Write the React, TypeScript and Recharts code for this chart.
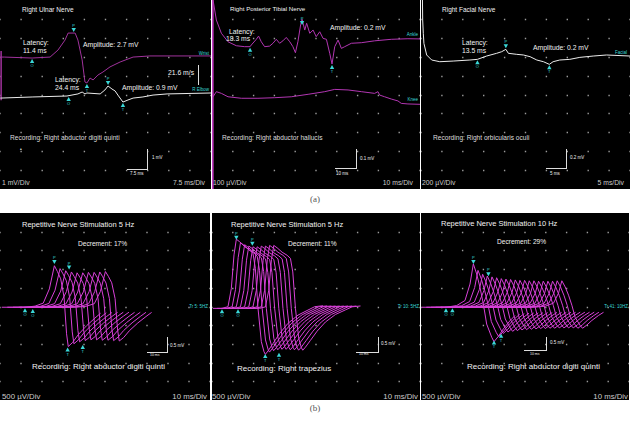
import React from "react";
import { ComposedChart, Line, Scatter, XAxis, YAxis, CartesianGrid } from "recharts";

type P = [number, number];
type Mark = { t: number; v: number; k: string };

// ---- top row: single nerve conduction recordings (x in ms) ----
// Right ulnar nerve, mV
const ulnarArtifact: P[] = [[0.4, 4.7], [0.4, 7.3]];
const ulnarWrist: P[] = [
  [0.1, 6.98], [1.5, 6.98], [11.4, 6.93], [17.8, 6.98], [20.6, 7.35], [23.1, 7.88], [24.2, 8.25],
  [26.7, 8.25], [27.7, 7.88], [29.2, 6.83], [30.2, 5.66], [30.9, 5.61], [32.0, 5.87], [33.1, 5.77],
  [34.8, 6.03], [36.6, 6.19], [39.1, 6.46], [42.7, 6.72], [47.3, 6.98], [53.3, 7.04], [75, 7.04],
];
const ulnarElbow: P[] = [
  [0.1, 4.81], [11.7, 4.87], [23.8, 4.92], [27.7, 5.03], [29.2, 5.13], [30.2, 5.03], [30.9, 5.08],
  [35.6, 5.03], [37.3, 5.24], [38.4, 5.45], [39.8, 5.29], [40.9, 5.19], [41.9, 4.97], [43.7, 4.6],
  [45.5, 4.71], [47.3, 4.81], [50.8, 4.87], [54.4, 4.97], [59.4, 5.03], [75, 5.08],
];
const ulnarMarks: Mark[] = [
  { t: 11.4, v: 6.93, k: "O" }, { t: 26.2, v: 8.25, k: "P" }, { t: 30.9, v: 5.61, k: "T" },
  { t: 24.4, v: 4.92, k: "O" }, { t: 38.4, v: 5.45, k: "P" }, { t: 43.7, v: 4.6, k: "T" },
];

// Right posterior tibial nerve, µV
const tibialArtifact: P[] = [[0.3, 0], [0.3, 1000]];
const tibialAnkle: P[] = [
  [0.5, 1000], [2.1, 894], [4.5, 824], [7.7, 779], [11.7, 758], [15.7, 753], [18.3, 753],
  [18.9, 762], [21.3, 792], [22.4, 809], [23.7, 779], [25.3, 753], [27.7, 756], [29.3, 771],
  [30.9, 792], [32.5, 771], [34.1, 784], [35.7, 802], [37.4, 779], [38.9, 753], [40.1, 721],
  [41.3, 779], [42.6, 868], [43.3, 898], [44.6, 841], [45.5, 877], [47.0, 824], [48.6, 841],
  [50.1, 806], [51.8, 832], [53.4, 797], [55.0, 792], [56.6, 718], [57.7, 661], [59.0, 753],
  [60.6, 788], [62.2, 744], [63.8, 753], [67.0, 771], [71.8, 774], [78.2, 784], [86.2, 792],
  [94.2, 795], [100, 794],
];
const tibialKnee: P[] = [
  [0.5, 488], [2.1, 515], [4.5, 506], [7.7, 488], [14.1, 480], [22.1, 480], [30.1, 483],
  [38.1, 488], [46.2, 501], [54.2, 515], [59.0, 527], [65.4, 524], [71.8, 515], [78.2, 506],
  [79.8, 515], [80.6, 497], [83.0, 488], [86.2, 476], [89.4, 466], [91.0, 453], [94.2, 450],
  [100, 448],
];
const tibialMarks: Mark[] = [
  { t: 18.3, v: 753, k: "O" }, { t: 43.3, v: 862, k: "P" }, { t: 57.7, v: 661, k: "T" },
];

// Right facial nerve, µV
const facialNasal: P[] = [
  [0.35, 2000], [0.4, 1788], [0.55, 1647], [0.7, 1541], [1.36, 1418], [2.56, 1365], [4.5, 1347],
  [7.7, 1354], [11.7, 1365], [13.5, 1372], [15.7, 1407], [18.1, 1436], [19.3, 1453], [20.3, 1478],
  [20.9, 1436], [22.9, 1425], [24.5, 1418], [26.1, 1400], [27.7, 1365], [29.3, 1347], [30.7, 1319],
  [31.6, 1347], [33.2, 1365], [35.6, 1372], [38.0, 1393], [41.2, 1407], [44.4, 1418], [50, 1407],
];
const facialMarks: Mark[] = [
  { t: 13.5, v: 1372, k: "O" }, { t: 20.3, v: 1478, k: "P" }, { t: 30.7, v: 1319, k: "T" },
];

// ---- bottom row: repetitive nerve stimulation (x in ms, mV relative to baseline) ----
const adq5Base: P[] = [
  [0.8, 0], [11.9, 0], [16.7, 0.03], [20.6, 0.11], [23.5, 0.49], [25.9, 1.11], [27.3, 0.96],
  [28.9, 0.76], [30.5, 0.27], [31.7, -0.71], [32.5, -1.05], [34.6, -0.94], [37.3, -0.73],
  [41.3, -0.49], [45.2, -0.29], [47.9, -0.16],
];
const adq5Ratios = [1, 0.93, 0.88, 0.85, 0.83, 0.83, 0.84, 0.84, 0.85, 0.86];
const adq5Marks: Mark[] = [
  { t: 11.9, v: 2.48, k: "O" }, { t: 15.6, v: 2.46, k: "O" }, { t: 25.9, v: 3.61, k: "P" },
  { t: 32.9, v: 3.46, k: "P" }, { t: 32.2, v: 1.43, k: "T" }, { t: 39.4, v: 1.5, k: "T" },
];

const trapBase: P[] = [
  [0.48, 0], [4.81, 0], [7.69, 0.045], [9.29, 0.53], [10.58, 1.43], [11.7, 1.85], [13.3, 1.78],
  [15.71, 1.65], [18.11, 1.56], [19.71, 1.47], [20.84, 1.07], [22.12, 0], [23.72, -0.89],
  [25.0, -1.16], [25.64, -1.23], [26.92, -1.14], [29.33, -0.94], [32.53, -0.67], [36.54, -0.4],
  [41.35, -0.18], [46.15, -0.045], [49.36, 0.045], [53.4, 0.07],
];
const trapRatios = [1, 0.95, 0.92, 0.9, 0.89, 0.89, 0.9, 0.9, 0.91, 0.91];
const trapMarks: Mark[] = [
  { t: 4.8, v: 2.45, k: "O" }, { t: 12.5, v: 2.45, k: "O" }, { t: 11.7, v: 4.26, k: "P" },
  { t: 19.4, v: 4.1, k: "P" }, { t: 25.6, v: 1.26, k: "T" }, { t: 32.2, v: 1.29, k: "T" },
];

const adq10Base: P[] = [
  [0.32, 0], [12.0, 0], [17.15, 0.045], [21.15, 0.18], [23.56, 0.62], [25.16, 1.16], [26.76, 0.89],
  [28.37, 0.53], [29.97, 0.09], [31.57, -0.45], [33.98, -0.8], [35.1, -0.92], [37.18, -0.78],
  [39.58, -0.58], [42.79, -0.36], [45.2, -0.22],
];
const adq10Ratios = [
  1, 0.85, 0.76, 0.72, 0.7, 0.68, 0.66, 0.65, 0.64, 0.63, 0.62, 0.62, 0.61, 0.61, 0.6, 0.6, 0.6,
  0.6, 0.61, 0.61,
];
const adq10Marks: Mark[] = [
  { t: 12.0, v: 2.48, k: "O" }, { t: 15.1, v: 2.48, k: "O" }, { t: 25.2, v: 3.61, k: "P" },
  { t: 32.4, v: 3.28, k: "P" }, { t: 35.1, v: 1.62, k: "T" }, { t: 38.5, v: 1.8, k: "T" },
];

const FONT = '"Liberation Sans", Arial, sans-serif';
const CYAN = "#3ad8d8";
const MAGENTA = "#d840d8";

const pts = (a: P[]) => a.map(([t, v]) => ({ t, v }));
const divs = (step: number) => Array.from({ length: 11 }, (_, i) => +(i * step).toFixed(3));

// successive responses drawn shifted to the right, as on the EMG screen
const cascade = (base: P[], ratios: number[], dx: number, baseline: number) =>
  ratios.map((r, k) => base.map(([t, v]) => ({ t: t + k * dx, v: baseline + v * r })));

const Marker = (props: any) => {
  const { cx, cy, payload } = props;
  if (cx == null || cy == null) return null;
  if (payload.k === "P") {
    return (
      <g>
        <path d={`M${cx},${cy - 1} L${cx - 2.2},${cy - 5} L${cx + 2.2},${cy - 5} Z`} fill={CYAN} />
        <text x={cx} y={cy - 6} fontSize={4} fill={CYAN} textAnchor="middle" fontFamily={FONT}>
          {payload.k}
        </text>
      </g>
    );
  }
  return (
    <g>
      <path d={`M${cx},${cy + 1} L${cx - 2.2},${cy + 5} L${cx + 2.2},${cy + 5} Z`} fill={CYAN} />
      <text x={cx} y={cy + 9} fontSize={4} fill={CYAN} textAnchor="middle" fontFamily={FONT}>
        {payload.k}
      </text>
    </g>
  );
};

type Txt = { x: number; y: number; s: string; size?: number; color?: string; right?: boolean };

const Label = ({ x, y, s, size = 6.8, color = "#f2f2f2", right }: Txt) => (
  <div
    style={{
      position: "absolute",
      left: x,
      top: y,
      transform: right ? "translate(-100%, -50%)" : "translateY(-50%)",
      fontSize: size,
      lineHeight: 1,
      color,
      fontFamily: FONT,
      whiteSpace: "nowrap",
    }}
  >
    {s}
  </div>
);

type Series = { data: { t: number; v: number }[]; color: string; width?: number };

type PanelProps = {
  left: number;
  top: number;
  w: number;
  h: number;
  xMax: number;
  yMax: number;
  series: Series[];
  marks: Mark[];
  texts: Txt[];
  bar: { x: number; y: number; bw: number; bh: number };
};

const Panel = ({ left, top, w, h, xMax, yMax, series, marks, texts, bar }: PanelProps) => {
  const colStep = w / 10;
  const rowStep = h / 10;
  const rows = Array.from({ length: 9 }, (_, i) => Math.round((i + 1) * rowStep) + 0.5);
  return (
    <div style={{ position: "absolute", left, top, width: w, height: h, background: "#000", overflow: "hidden" }}>
      <ComposedChart width={w} height={h} margin={{ top: 0, right: 0, bottom: 0, left: 0 }}>
        <CartesianGrid
          vertical={false}
          horizontalPoints={rows}
          stroke="#9a9a9a"
          strokeWidth={1.3}
          strokeDasharray={`1.4 ${colStep - 1.4}`}
          strokeDashoffset={-colStep + 0.7}
        />
        <XAxis type="number" dataKey="t" domain={[0, xMax]} ticks={divs(xMax / 10)} hide allowDataOverflow />
        <YAxis type="number" dataKey="v" domain={[0, yMax]} ticks={divs(yMax / 10)} hide allowDataOverflow />
        {series.map((s, i) => (
          <Line
            key={i}
            data={s.data}
            dataKey="v"
            type="linear"
            stroke={s.color}
            strokeWidth={s.width ?? 1}
            dot={false}
            activeDot={false}
            isAnimationActive={false}
          />
        ))}
        <Scatter data={marks} dataKey="v" shape={Marker} isAnimationActive={false} />
      </ComposedChart>
      <div
        style={{
          position: "absolute",
          left: bar.x - bar.bw,
          top: bar.y - bar.bh,
          width: bar.bw,
          height: bar.bh,
          borderRight: "1px solid #ddd",
          borderBottom: "1px solid #ddd",
        }}
      />
      {texts.map((t, i) => (
        <Label key={i} {...t} />
      ))}
    </div>
  );
};

const App = () => {
  const white = "#ececec";
  return (
    <div style={{ position: "absolute", left: 0, top: 0, width: 630, height: 421, background: "#fff", overflow: "hidden" }}>
      <Panel
        left={0}
        top={0}
        w={211}
        h={189}
        xMax={75}
        yMax={10}
        series={[
          { data: pts(ulnarArtifact), color: "#a0329c", width: 1.5 },
          { data: pts(ulnarWrist), color: "#a0329c" },
          { data: pts(ulnarElbow), color: white },
        ]}
        marks={ulnarMarks}
        bar={{ x: 147, y: 169, bw: 20, bh: 20 }}
        texts={[
          { x: 22, y: 10, s: "Right Ulnar Nerve", size: 6.5 },
          { x: 23, y: 43, s: "Latency:" },
          { x: 23, y: 51, s: "11.4 ms" },
          { x: 83, y: 45, s: "Amplitude: 2.7 mV" },
          { x: 55, y: 80, s: "Latency:" },
          { x: 55, y: 88, s: "24.4 ms" },
          { x: 122, y: 88, s: "Amplitude: 0.9 mV" },
          { x: 168, y: 73, s: "21.6 m/s" },
          { x: 209, y: 54, s: "Wrist", size: 4.5, color: CYAN, right: true },
          { x: 209, y: 90, s: "R Elbow", size: 4.5, color: CYAN, right: true },
          { x: 10, y: 138, s: "Recording: Right abductor digiti quinti", size: 6.6, color: "#ddd" },
          { x: 152, y: 158, s: "1 mV", size: 4.5 },
          { x: 130, y: 174, s: "7.5 ms", size: 4.5 },
          { x: 20, y: 149, s: "•", size: 5 },
          { x: 2, y: 183, s: "1 mV/Div", size: 6.8, color: "#ccc" },
          { x: 205, y: 183, s: "7.5 ms/Div", size: 6.8, color: "#ccc", right: true },
        ]}
      />
      <div style={{ position: "absolute", left: 198, top: 65, width: 1, height: 20, background: "#ddd" }} />

      <Panel
        left={212}
        top={0}
        w={208}
        h={189}
        xMax={100}
        yMax={1000}
        series={[
          { data: pts(tibialArtifact), color: "#c23ac2", width: 2 },
          { data: pts(tibialAnkle), color: "#b236b2" },
          { data: pts(tibialKnee), color: "#b236b2" },
        ]}
        marks={tibialMarks}
        bar={{ x: 144, y: 168, bw: 21, bh: 19 }}
        texts={[
          { x: 18, y: 9, s: "Right Posterior Tibial Nerve", size: 6.2 },
          { x: 17, y: 32, s: "Latency:" },
          { x: 14, y: 39, s: "18.3 ms" },
          { x: 118, y: 28, s: "Amplitude: 0.2 mV" },
          { x: 206, y: 35, s: "Ankle", size: 4.5, color: CYAN, right: true },
          { x: 206, y: 100, s: "Knee", size: 4.5, color: CYAN, right: true },
          { x: 10, y: 138, s: "Recording: Right abductor hallucis", size: 6.6, color: "#ddd" },
          { x: 148, y: 159, s: "0.1 mV", size: 4.5 },
          { x: 124, y: 174, s: "10 ms", size: 4.5 },
          { x: 1, y: 183, s: "100 µV/Div", size: 6.8, color: "#ccc" },
          { x: 201, y: 183, s: "10 ms/Div", size: 6.8, color: "#ccc", right: true },
        ]}
      />

      <Panel
        left={421}
        top={0}
        w={209}
        h={189}
        xMax={50}
        yMax={2000}
        series={[{ data: pts(facialNasal), color: white }]}
        marks={facialMarks}
        bar={{ x: 145, y: 168, bw: 20, bh: 19 }}
        texts={[
          { x: 21, y: 10, s: "Right Facial Nerve", size: 6.5 },
          { x: 41, y: 43, s: "Latency:" },
          { x: 41, y: 51, s: "13.5 ms" },
          { x: 112, y: 48, s: "Amplitude: 0.2 mV" },
          { x: 206, y: 53, s: "Facial", size: 4.5, color: CYAN, right: true },
          { x: 12, y: 138, s: "Recording: Right orbicularis oculi", size: 6.6, color: "#ddd" },
          { x: 149, y: 158, s: "0.2 mV", size: 4.5 },
          { x: 129, y: 174, s: "5 ms", size: 4.5 },
          { x: 1, y: 183, s: "200 µV/Div", size: 6.8, color: "#ccc" },
          { x: 203, y: 183, s: "5 ms/Div", size: 6.8, color: "#ccc", right: true },
        ]}
      />

      <div style={{ position: "absolute", left: 0, width: 630, top: 194, textAlign: "center", fontSize: 9, fontFamily: "serif", color: "#555" }}>
        (a)
      </div>

      <Panel
        left={0}
        top={213}
        w={210}
        h={187}
        xMax={100}
        yMax={5}
        series={cascade(adq5Base, adq5Ratios, 2.7, 2.48).map((d) => ({ data: d, color: MAGENTA }))}
        marks={adq5Marks}
        bar={{ x: 167, y: 139, bw: 20, bh: 15 }}
        texts={[
          { x: 22, y: 12, s: "Repetitive Nerve Stimulation 5 Hz", size: 7.5 },
          { x: 78, y: 31, s: "Decrement: 17%", size: 6.6 },
          { x: 208, y: 94, s: "Tr 5: 5HZ", size: 4.5, color: CYAN, right: true },
          { x: 170, y: 133, s: "0.5 mV", size: 4.5 },
          { x: 150, y: 143, s: "10 ms", size: 3.5 },
          { x: 32, y: 154, s: "Recording: Right abductor digiti quinti", size: 8 },
          { x: 2, y: 184, s: "500 µV/Div", size: 7.8, color: "#ccc" },
          { x: 207, y: 184, s: "10 ms/Div", size: 7.8, color: "#ccc", right: true },
        ]}
      />

      <Panel
        left={212}
        top={213}
        w={208}
        h={187}
        xMax={100}
        yMax={5}
        series={cascade(trapBase, trapRatios, 2.0, 2.45).map((d) => ({ data: d, color: MAGENTA }))}
        marks={trapMarks}
        bar={{ x: 166, y: 139, bw: 22, bh: 15 }}
        texts={[
          { x: 19, y: 12, s: "Repetitive Nerve Stimulation 5 Hz", size: 7.5 },
          { x: 76, y: 31, s: "Decrement: 11%", size: 6.6 },
          { x: 207, y: 94, s: "Tr 10: 5HZ", size: 4.5, color: CYAN, right: true },
          { x: 169, y: 131, s: "0.5 mV", size: 4.5 },
          { x: 147, y: 142, s: "10 ms", size: 3.5 },
          { x: 25, y: 156, s: "Recording: Right trapezius", size: 8 },
          { x: 0, y: 184, s: "500 µV/Div", size: 7.8, color: "#ccc" },
          { x: 206, y: 184, s: "10 ms/Div", size: 7.8, color: "#ccc", right: true },
        ]}
      />

      <Panel
        left={421}
        top={213}
        w={208}
        h={187}
        xMax={100}
        yMax={5}
        series={cascade(adq10Base, adq10Ratios, 2.24, 2.48).map((d) => ({ data: d, color: MAGENTA }))}
        marks={adq10Marks}
        bar={{ x: 125, y: 137, bw: 22, bh: 13 }}
        texts={[
          { x: 20, y: 11, s: "Repetitive Nerve Stimulation 10 Hz", size: 7.5 },
          { x: 76, y: 29, s: "Decrement: 29%", size: 6.6 },
          { x: 207, y: 94, s: "Tr 41: 10HZ", size: 4.5, color: CYAN, right: true },
          { x: 129, y: 130, s: "0.5 mV", size: 4.5 },
          { x: 109, y: 142, s: "10 ms", size: 3.5 },
          { x: 46, y: 154, s: "Recording: Right abductor digiti quinti", size: 8 },
          { x: 1, y: 184, s: "500 µV/Div", size: 7.8, color: "#ccc" },
          { x: 207, y: 184, s: "10 ms/Div", size: 7.8, color: "#ccc", right: true },
        ]}
      />

      <div style={{ position: "absolute", left: 0, width: 630, top: 403, textAlign: "center", fontSize: 9, fontFamily: "serif", color: "#555" }}>
        (b)
      </div>
    </div>
  );
};

export default App;
